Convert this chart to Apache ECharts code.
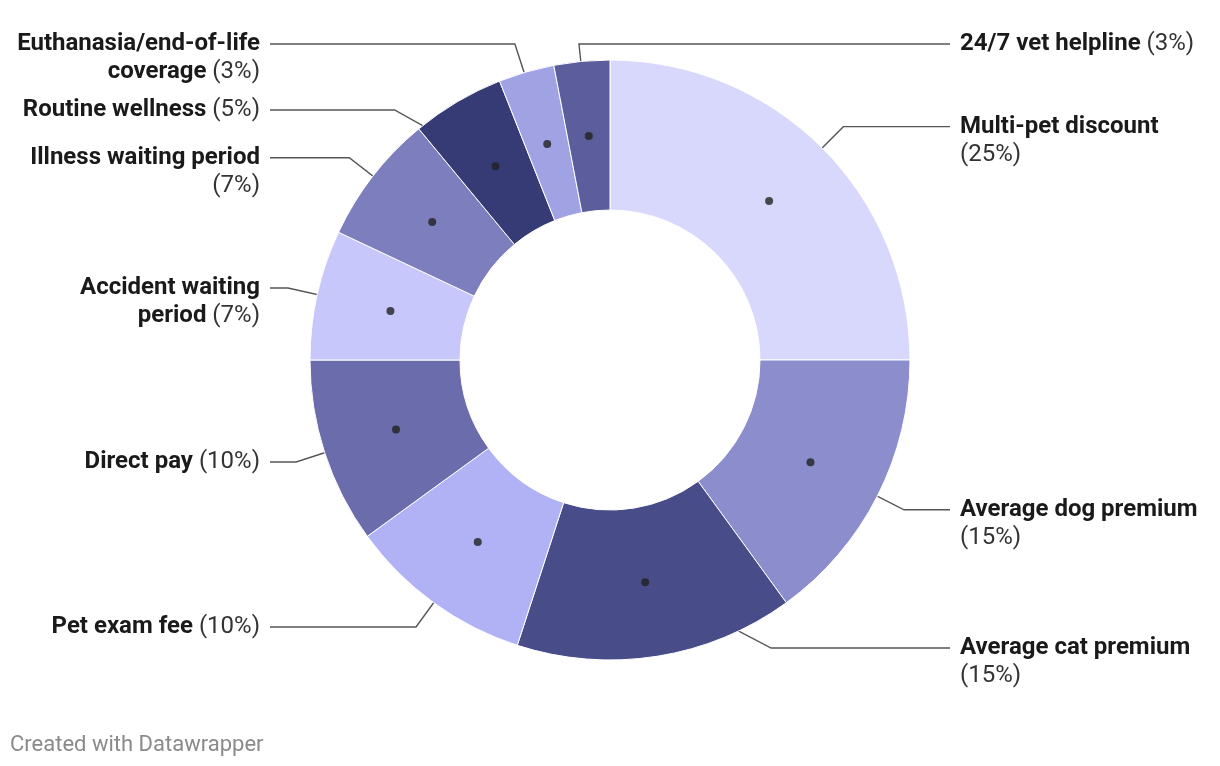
<!DOCTYPE html>
<html><head><meta charset="utf-8">
<script src="https://cdn.jsdelivr.net/npm/echarts@6/dist/echarts.min.js"></script>
<style>html,body{margin:0;padding:0;background:#fff}#c{width:1220px;height:766px}</style>
</head><body><div id="c"></div>
<script>
// ---- data ----
const categories = ['Multi-pet discount', 'Average dog premium', 'Average cat premium', 'Pet exam fee', 'Direct pay',
  'Accident waiting period', 'Illness waiting period', 'Routine wellness', 'Euthanasia/end-of-life coverage', '24/7 vet helpline'];
const values = [25, 15, 15, 10, 10, 7, 7, 5, 3, 3];
const colors = ['#d8d8fd', '#8b8dcd', '#484c89', '#b1b2f5', '#6a6cab', '#c7c7fc', '#7c7ebd', '#373b75', '#a0a2e4', '#5b5d9c'];
const footerText = 'Created with Datawrapper';

// ---- layout constants ----
const CX = 610, CY = 360, R_IN = 150, R_OUT = 300, R_DOT = 225, R_BEND = 330;
const LEFT_X = 270, RIGHT_X = 950, TEXT_GAP = 10, LINE_H = 28, FONT = 24, MAX_W = 246, GAP = 10;
const FAMILY = 'Roboto';

const total = values.reduce((a, b) => a + b, 0);
const ctx = document.createElement('canvas').getContext('2d');
function measure(str, bold) { ctx.font = (bold ? 'bold ' : '') + FONT + 'px ' + FAMILY; return ctx.measureText(str).width; }

function wrapLabel(name, pct) {
  const tokens = name.split(' ').map(t => ({ t, b: true })).concat([{ t: pct, b: false }]);
  const lines = []; let cur = []; let w = 0;
  tokens.forEach(tok => {
    const tw = measure(tok.t, tok.b);
    const sw = cur.length ? measure(' ', tok.b) : 0;
    if (cur.length && w + sw + tw > MAX_W) { lines.push(cur); cur = [tok]; w = tw; }
    else { cur.push(tok); w += sw + tw; }
  });
  if (cur.length) lines.push(cur);
  const rich = lines.map(line => {
    const groups = [];
    line.forEach(tok => {
      const g = groups[groups.length - 1];
      if (g && g.b === tok.b) g.t += ' ' + tok.t; else groups.push({ b: tok.b, t: tok.t });
    });
    return groups.map((g, k) => '{' + (g.b ? 'b' : 'p') + '|' + (k > 0 ? ' ' : '') + g.t + '}').join('');
  });
  return { text: rich.join('\n'), n: lines.length };
}

// compute slices & label placement
let acc = 0;
const items = values.map((v, i) => {
  const mid = acc + v / 2; acc += v;
  const a = mid / total * Math.PI * 2;
  const s = Math.sin(a), c = Math.cos(a);
  const pct = '(' + Math.round(v / total * 100) + '%)';
  const w = wrapLabel(categories[i], pct);
  return { i, mid, s, c, natX: CX + R_BEND * s, natY: CY - R_BEND * c, y: CY - R_BEND * c,
    natSide: s >= 0 ? 1 : -1, side: 0, text: w.text, h: w.n * LINE_H };
});
// near-vertical labels go to the less crowded side
let cntR = 0, cntL = 0;
items.forEach(it => { if (Math.abs(it.s) >= 0.15) { it.side = it.natSide; if (it.side > 0) cntR++; else cntL++; } });
items.forEach(it => { if (!it.side) { it.side = cntR <= cntL ? 1 : -1; if (it.side > 0) cntR++; else cntL++; } });
// resolve overlaps per side
const TOP = CY - R_BEND, BOTTOM = CY + R_BEND;
[1, -1].forEach(side => {
  const list = items.filter(it => it.side === side).sort((a, b) => a.natY - b.natY);
  list.forEach((it, k) => {
    if (k === 0) it.y = Math.max(it.natY, TOP + LINE_H / 2);
    else { const p = list[k - 1]; it.y = Math.max(it.natY, p.y - LINE_H / 2 + p.h + GAP + LINE_H / 2); }
  });
  for (let k = list.length - 1; k >= 0; k--) {
    const it = list[k];
    if (k === list.length - 1) it.y = Math.min(it.y, BOTTOM - it.h + LINE_H / 2);
    else { const nx = list[k + 1]; it.y = Math.min(it.y, nx.y - LINE_H / 2 - GAP - it.h + LINE_H / 2); }
  }
});
items.forEach(it => {
  const p1 = [CX + R_DOT * it.s, CY - R_DOT * it.c];
  let p2;
  if (Math.abs(it.y - it.natY) < 0.5) p2 = [it.natX, it.natY];
  else if (it.side !== it.natSide) p2 = [it.natX, it.y];
  else { const dy = it.y - CY; const dx = Math.abs(dy) < R_BEND ? Math.sqrt(R_BEND * R_BEND - dy * dy) : 0; p2 = [CX + it.side * dx, it.y]; }
  const p3 = [it.side > 0 ? RIGHT_X : LEFT_X, it.y];
  it.points = [p1, p2, p3];
  it.lx = p3[0] + it.side * TEXT_GAP;
  it.ly = it.y - LINE_H / 2;
});

const chart = echarts.init(document.getElementById('c'), null, { renderer: 'canvas' });
chart.setOption({
  animation: false,
  backgroundColor: '#fff',
  title: { text: footerText, left: 5, top: 729, textStyle: { fontFamily: FAMILY, fontSize: 22, fontWeight: 'normal', color: '#8a8a8a' } },
  polar: { center: [CX, CY], radius: R_OUT },
  angleAxis: { type: 'value', min: 0, max: total, startAngle: 90, clockwise: true, show: false },
  radiusAxis: { type: 'value', min: 0, max: R_OUT, show: false },
  series: [{
    type: 'pie',
    center: [CX, CY],
    radius: [R_IN, R_OUT],
    startAngle: 90,
    clockwise: true,
    avoidLabelOverlap: false,
    emphasis: { disabled: true },
    itemStyle: { borderColor: '#fff', borderWidth: 1 },
    data: categories.map((name, i) => ({ name, value: values[i], itemStyle: { color: colors[i] },
      label: { formatter: items[i].text } })),
    label: {
      show: true, position: 'outside', fontFamily: FAMILY, fontSize: FONT, lineHeight: LINE_H, color: '#1a1a1a',
      padding: 0, overflow: 'none',
      rich: {
        b: { fontFamily: FAMILY, fontSize: FONT, fontWeight: 'bold', lineHeight: LINE_H, color: '#1a1a1a' },
        p: { fontFamily: FAMILY, fontSize: FONT, fontWeight: 'normal', lineHeight: LINE_H, color: '#333' }
      }
    },
    labelLine: { show: true, length: 10, length2: 10, smooth: false, lineStyle: { color: '#555', width: 1.4 } },
    labelLayout: function (params) {
      const it = items[params.dataIndex];
      return { x: it.lx, y: it.ly, align: it.side > 0 ? 'left' : 'right', verticalAlign: 'top', labelLinePoints: it.points };
    }
  }, {
    type: 'scatter',
    coordinateSystem: 'polar',
    symbol: 'circle',
    symbolSize: 8,
    z: 5,
    silent: true,
    itemStyle: { color: '#222' },
    data: items.map(it => [R_DOT, it.mid])
  }]
});
</script>
</body></html>
